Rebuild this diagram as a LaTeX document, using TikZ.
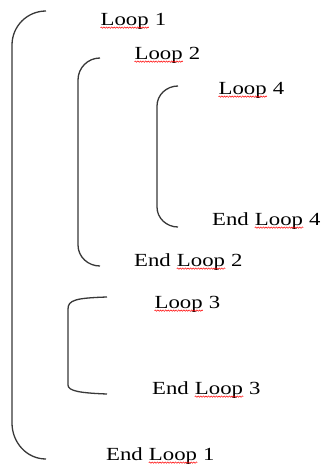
\documentclass[tikz,border=0pt]{standalone}
\usepackage{fontspec}
\setmainfont{Liberation Serif}[FakeStretch=1.23]
\usetikzlibrary{decorations.pathmorphing}
\tikzset{
  brace/.style={draw=black!78, line width=1.3pt},
  label/.style={anchor=base west, inner sep=0pt, font=\fontsize{18.5}{22}\selectfont},
  squiggle/.style={draw=red, line width=0.5pt, decorate,
    decoration={snake, amplitude=0.7pt, segment length=2.6pt}}
}
% word marked with a wavy red underline
\newcommand\wavyword[1]{\tikz[baseline=(w.base)]{\node[inner sep=0pt, anchor=base](w){#1};
  \draw[squiggle] ([yshift=-2.6pt]w.base west) -- ([yshift=-2.6pt]w.base east);}}
\begin{document}
\begin{tikzpicture}[x=1pt, y=-1pt]
  \useasboundingbox (0,0) rectangle (327,469);

  % labels
  \node[label] (l1)  at (100,25)  {\wavyword{Loop} 1};
  \node[label] (l2)  at (134,59)  {\wavyword{Loop} 2};
  \node[label] (l4)  at (218,94)  {\wavyword{Loop} 4};
  \node[label] (e4)  at (212,225) {End \wavyword{Loop} 4};
  \node[label] (e2)  at (134,266) {End \wavyword{Loop} 2};
  \node[label] (l3)  at (154,308) {\wavyword{Loop} 3};
  \node[label] (e3)  at (152,394) {End \wavyword{Loop} 3};
  \node[label] (e1)  at (106,460) {End \wavyword{Loop} 1};

  % outer bracket: loop 1
  \draw[brace] (46,11) to[out=180,in=90] (12,45) -- (12,423) to[out=-90,in=180] (46,459);
  % loop 2
  \draw[brace] (100,58) to[out=180,in=90] (78,80) -- (78,245) to[out=-90,in=180] (100,266);
  % loop 4
  \draw[brace] (178,86) to[out=180,in=90] (157,106) -- (157,207) to[out=-90,in=180] (178,227);
  % loop 3
  \draw[brace] (107,297) .. controls (76,298) and (68,300) .. (68,309)
    -- (68,385) .. controls (68,391) and (80,393) .. (107,394);
\end{tikzpicture}
\end{document}
